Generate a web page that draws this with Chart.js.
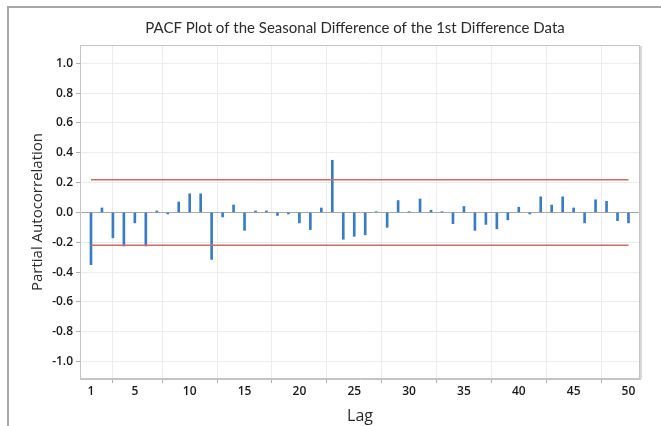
<!DOCTYPE html>
<html>
<head>
<meta charset="utf-8">
<script src="https://cdn.jsdelivr.net/npm/chart.js@4.4.1/dist/chart.umd.min.js"></script>
<style>
  html, body { margin: 0; padding: 0; background: #fff; }
  #wrap { width: 661px; height: 426px; position: relative; }
</style>
</head>
<body>
<div id="wrap"><canvas id="pacfChart" width="661" height="426"></canvas></div>
<script>
// PACF values per lag
const lags = [];
for (let i = 1; i <= 50; i++) lags.push(i);
const pacf = [
  -0.35, 0.03, -0.17, -0.225, -0.07, -0.225, 0.01, -0.01, 0.07, 0.125,
  0.125, -0.315, -0.03, 0.05, -0.12, 0.01, 0.01, -0.02, -0.01, -0.07,
  -0.115, 0.03, 0.35, -0.18, -0.16, -0.15, 0.005, -0.10, 0.08, 0.005,
  0.09, 0.015, 0.005, -0.075, 0.04, -0.12, -0.08, -0.11, -0.05, 0.035,
  -0.01, 0.105, 0.05, 0.105, 0.03, -0.07, 0.085, 0.075, -0.055, -0.07
];
const limit = 0.22;
const xTicks = [1, 5, 10, 15, 20, 25, 30, 35, 40, 45, 50];
const yTicks = [-1.0, -0.8, -0.6, -0.4, -0.2, 0.0, 0.2, 0.4, 0.6, 0.8, 1.0];
const titleText = "PACF Plot of the Seasonal Difference of the 1st Difference Data";

const font = "'Open Sans', 'Noto Sans', sans-serif";

const framePlugin = {
  id: "frame",
  beforeDraw(chart) {
    const ctx = chart.ctx;
    ctx.save();
    ctx.strokeStyle = "#a8a8a8";
    ctx.lineWidth = 2;
    ctx.beginPath();
    ctx.moveTo(661, 7);
    ctx.lineTo(8, 7);
    ctx.lineTo(8, 426);
    ctx.stroke();
    ctx.restore();
  },
  afterDatasetsDraw(chart) {
    const a = chart.chartArea;
    const ctx = chart.ctx;
    ctx.save();
    ctx.strokeStyle = "#c4c4c4";
    ctx.lineWidth = 1;
    ctx.strokeRect(a.left + 0.5, a.top + 0.5, a.right - a.left - 1, a.bottom - a.top - 1);
    ctx.strokeStyle = "#d8d8d8";
    ctx.lineWidth = 2;
    ctx.beginPath();
    ctx.moveTo(a.right + 1, a.top + 1);
    ctx.lineTo(a.right + 1, a.bottom);
    ctx.stroke();
    // title, centred over the plot area
    ctx.fillStyle = "#2b2b2b";
    ctx.font = "15px Lato, 'Open Sans', sans-serif";
    ctx.textAlign = "center";
    ctx.textBaseline = "middle";
    ctx.fillText(titleText, (a.left + a.right) / 2 - 5, 28);
    ctx.restore();
  }
};

new Chart(document.getElementById("pacfChart"), {
  type: "bar",
  data: {
    datasets: [
      {
        type: "line",
        label: "Upper limit",
        data: [{ x: lags[0], y: limit }, { x: lags[lags.length - 1], y: limit }],
        borderColor: "#d26a68", borderWidth: 1.5, pointRadius: 0, order: 1
      },
      {
        type: "line",
        label: "Lower limit",
        data: [{ x: lags[0], y: -limit }, { x: lags[lags.length - 1], y: -limit }],
        borderColor: "#d26a68", borderWidth: 1.5, pointRadius: 0, order: 1
      },
      {
        label: "PACF",
        data: lags.map((l, i) => ({ x: l, y: pacf[i] })),
        backgroundColor: "#3a7cc4",
        barThickness: 2,
        order: 2
      }
    ]
  },
  options: {
    responsive: false,
    animation: false,
    layout: { padding: { left: 0, right: 21, top: 0, bottom: 0 } },
    plugins: {
      legend: { display: false },
      tooltip: { enabled: false },
      title: {
        display: true,
        text: titleText,
        color: "rgba(0,0,0,0)",
        font: { family: font, size: 15, weight: "normal" },
        padding: { top: 18, bottom: 9 }
      }
    },
    scales: {
      x: {
        type: "linear",
        min: 0,
        max: 51.05,
        offset: false,
        afterBuildTicks: s => { s.ticks = xTicks.map(v => ({ value: v })); },
        afterFit: s => { s.height = 47; },
        grid: { color: "#ececec", tickColor: "#b0b0b0", tickLength: 4 },
        border: { color: "#c4c4c4" },
        ticks: { color: "#1a1a1a", padding: 1, font: { family: font, size: 12, weight: "600" }, maxRotation: 0 },
        title: { display: true, text: "Lag", color: "#2b2b2b", padding: { top: 0, bottom: 0 }, font: { family: font, size: 16 } }
      },
      y: {
        min: -1.117,
        max: 1.123,
        afterBuildTicks: s => { s.ticks = yTicks.map(v => ({ value: v })); },
        afterFit: s => { s.width = 80; },
        grid: {
          color: c => (c.tick && c.tick.value === 0 ? "#a8a8a8" : "#ececec"),
          tickColor: "#b0b0b0",
          tickLength: 4
        },
        border: { color: "#c4c4c4" },
        ticks: { color: "#1a1a1a", padding: 3, font: { family: font, size: 12, weight: "600" }, callback: v => v.toFixed(1) },
        title: { display: true, text: "Partial Autocorrelation", color: "#2b2b2b", padding: { top: 29, bottom: 0 }, font: { family: font, size: 15 } }
      }
    }
  },
  plugins: [framePlugin]
});
</script>
</body>
</html>
